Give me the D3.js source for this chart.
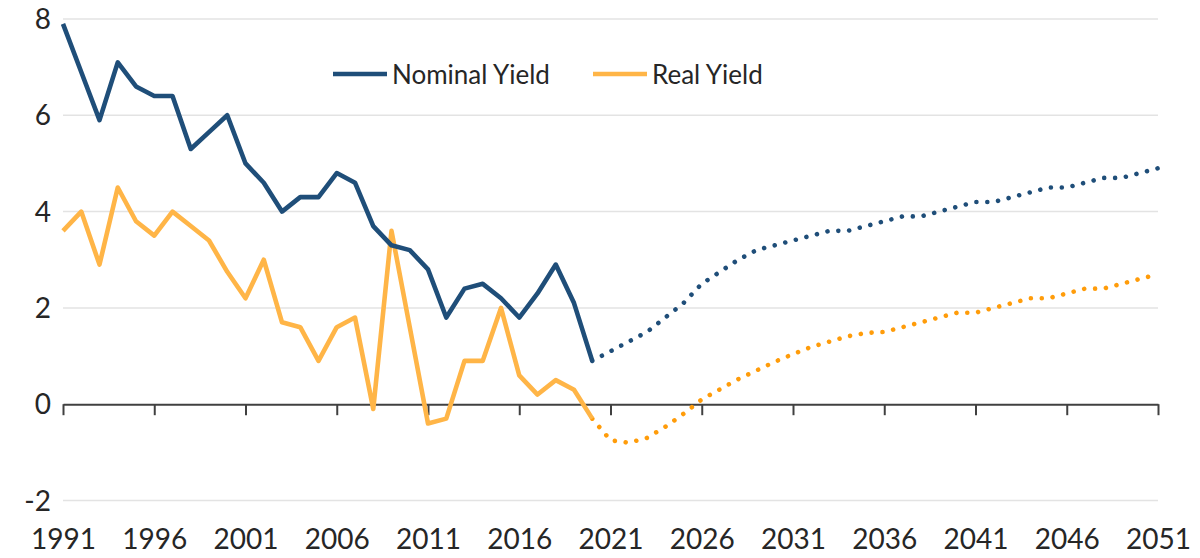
<!DOCTYPE html>
<html>
<head>
<meta charset="utf-8">
<script src="https://cdn.jsdelivr.net/npm/d3@7"></script>
<style>
  body { margin: 0; background: #fff; }
  text { font-family: Lato, "Open Sans", sans-serif; fill: #262626; }
</style>
</head>
<body>
<script>
// actual yields 1991-2020
var actualYears = d3.range(1991, 2021);
var nominalActual = [7.9, 6.9, 5.9, 7.1, 6.6, 6.4, 6.4, 5.3, 5.65, 6.0,
                     5.0, 4.6, 4.0, 4.3, 4.3, 4.8, 4.6, 3.7, 3.3, 3.2,
                     2.8, 1.8, 2.4, 2.5, 2.2, 1.8, 2.3, 2.9, 2.1, 0.9];
var realActual = [3.6, 4.0, 2.9, 4.5, 3.8, 3.5, 4.0, 3.7, 3.4, 2.75,
                  2.2, 3.0, 1.7, 1.6, 0.9, 1.6, 1.8, -0.1, 3.6, 1.6,
                  -0.4, -0.3, 0.9, 0.9, 2.0, 0.6, 0.2, 0.5, 0.3, -0.3];

// projections 2020-2051
var projYears = d3.range(2020, 2052);
var nominalProj = [0.9, 1.1, 1.3, 1.5, 1.8, 2.1, 2.5, 2.75, 3.0, 3.2,
                   3.3, 3.4, 3.5, 3.6, 3.6, 3.7, 3.8, 3.9, 3.9, 4.0,
                   4.1, 4.2, 4.2, 4.3, 4.4, 4.5, 4.5, 4.6, 4.7, 4.7,
                   4.8, 4.9];
var realProj = [-0.3, -0.75, -0.8, -0.7, -0.47, -0.2, 0.1, 0.31, 0.52, 0.7,
                0.88, 1.04, 1.19, 1.3, 1.41, 1.48, 1.5, 1.6, 1.7, 1.8,
                1.9, 1.9, 2.0, 2.1, 2.2, 2.2, 2.3, 2.4, 2.4, 2.5,
                2.6, 2.7];

var yTicks = [-2, 0, 2, 4, 6, 8];
var xTicks = d3.range(1991, 2052, 5);
var seriesNames = ["Nominal Yield", "Real Yield"];

var W = 1200, H = 558;
var blue = "#1f4e79", orange = "#ffb547", orangeDot = "#ff9c0a";

var svg = d3.select("body").append("svg")
  .attr("width", W).attr("height", H);

var x = d3.scaleLinear().domain([1991, 2051]).range([63, 1158]);
var y = d3.scaleLinear().domain([-2, 8]).range([500.5, 19]);

// gridlines
svg.append("g")
  .selectAll("line")
  .data(yTicks.filter(function(d) { return d !== 0; }))
  .enter().append("line")
  .attr("x1", x(1991)).attr("x2", x(2051))
  .attr("y1", function(d) { return y(d); })
  .attr("y2", function(d) { return y(d); })
  .attr("stroke", "#e3e3e3").attr("stroke-width", 1.5);

// y labels
svg.append("g")
  .selectAll("text")
  .data(yTicks)
  .enter().append("text")
  .attr("x", 51)
  .attr("y", function(d) { return y(d) + 10; })
  .attr("text-anchor", "end")
  .attr("font-size", 28)
  .text(function(d) { return d; });

// x axis along zero
var xAxis = svg.append("g")
  .attr("transform", "translate(0," + y(0) + ")")
  .call(d3.axisBottom(x).tickValues(xTicks).tickSize(11).tickFormat(d3.format("d")).tickSizeOuter(0));
xAxis.select(".domain").attr("stroke", "#404040").attr("stroke-width", 2);
xAxis.selectAll(".tick line").attr("stroke", "#404040").attr("stroke-width", 2);
xAxis.selectAll(".tick text")
  .attr("font-size", 28)
  .attr("fill", "#262626")
  .attr("font-family", "Lato, sans-serif")
  .attr("y", 0)
  .attr("dy", null)
  .attr("transform", "translate(0," + (y(-2) - y(0) + 48) + ")");

var line = d3.line()
  .x(function(d) { return x(d[0]); })
  .y(function(d) { return y(d[1]); });

function pairs(years, vals) {
  return years.map(function(yr, i) { return [yr, vals[i]]; });
}

// projections (dotted)
svg.append("path")
  .datum(pairs(projYears, nominalProj))
  .attr("d", line)
  .attr("fill", "none")
  .attr("stroke", blue).attr("stroke-width", 4.6)
  .attr("stroke-linecap", "round")
  .attr("stroke-dasharray", "0.01 10.9");
svg.append("path")
  .datum(pairs(projYears, realProj))
  .attr("d", line)
  .attr("fill", "none")
  .attr("stroke", orangeDot).attr("stroke-width", 4.6)
  .attr("stroke-linecap", "round")
  .attr("stroke-dasharray", "0.01 10.9");

// actual (solid)
svg.append("path")
  .datum(pairs(actualYears, realActual))
  .attr("d", line)
  .attr("fill", "none")
  .attr("stroke", orange).attr("stroke-width", 4.6)
  .attr("stroke-linejoin", "round");
svg.append("path")
  .datum(pairs(actualYears, nominalActual))
  .attr("d", line)
  .attr("fill", "none")
  .attr("stroke", blue).attr("stroke-width", 4.6)
  .attr("stroke-linejoin", "round");

// legend
var legend = svg.append("g");
var legendX = [333, 593], legendColors = [blue, orange];
seriesNames.forEach(function(name, i) {
  legend.append("line")
    .attr("x1", legendX[i]).attr("x2", legendX[i] + 54)
    .attr("y1", 74).attr("y2", 74)
    .attr("stroke", legendColors[i]).attr("stroke-width", 4.6);
  legend.append("text")
    .attr("x", legendX[i] + 59).attr("y", 84)
    .attr("font-size", 26)
    .text(name);
});
</script>
</body>
</html>
